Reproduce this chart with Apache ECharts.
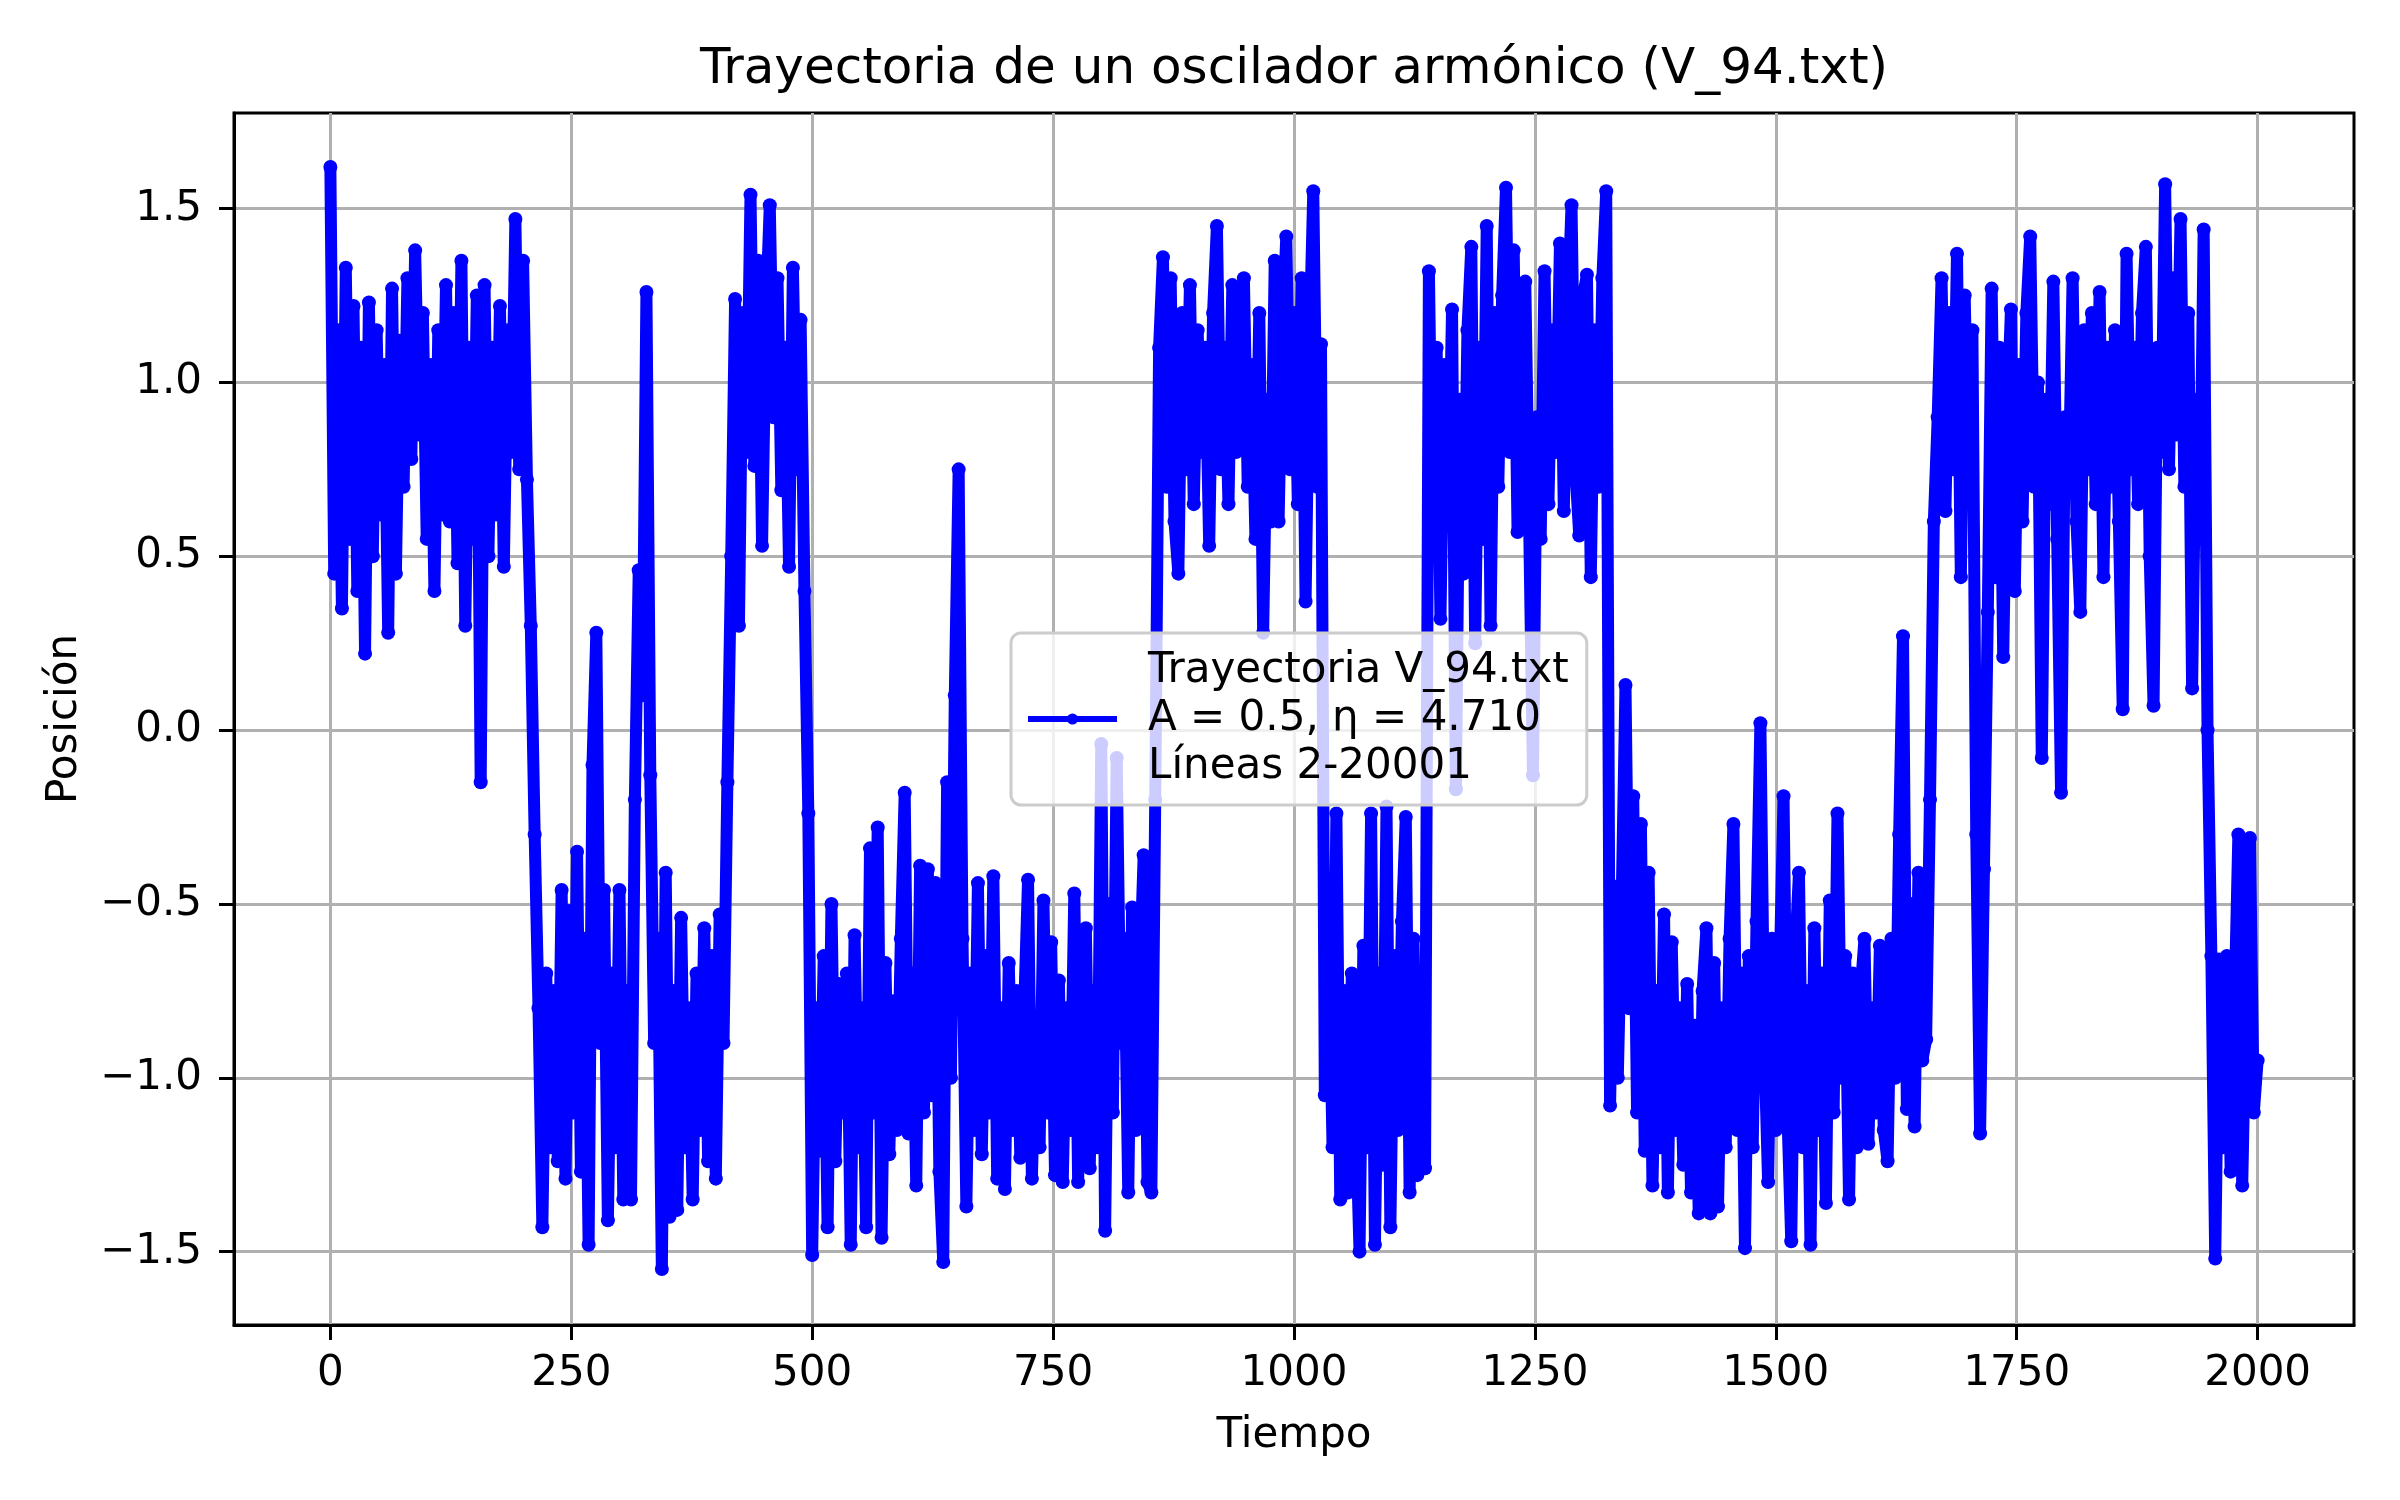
<!DOCTYPE html>
<html>
<head>
<meta charset="utf-8">
<title>Trayectoria V_94</title>
<script src="https://cdn.jsdelivr.net/npm/echarts@6/dist/echarts.min.js"></script>
<style>
  html, body { margin: 0; padding: 0; background: #fff; }
  #chart { width: 2400px; height: 1500px; }
</style>
</head>
<body>
<div id="chart"></div>
<script>
// datos (paso de 4 unidades de tiempo)
var paso = 4;
var posicion = [
    1.62, 0.45, 1.15, 0.35, 1.33, 0.55, 1.22, 0.40, 1.10, 0.22,
    1.23, 0.50, 1.15, 0.62, 1.05, 0.28, 1.27, 0.45, 1.12, 0.70,
    1.30, 0.78, 1.38, 0.85, 1.20, 0.55, 1.05, 0.40, 1.15, 0.62,
    1.28, 0.60, 1.20, 0.48, 1.35, 0.30, 1.10, 0.55, 1.25, -0.15,
    1.28, 0.50, 1.10, 0.62, 1.22, 0.47, 1.15, 0.80, 1.47, 0.75,
    1.35, 0.72, 0.30, -0.30, -0.80, -1.43, -0.70, -1.20, -0.75, -1.24,
    -0.46, -1.29, -0.52, -1.10, -0.35, -1.27, -0.60, -1.48, -0.10, 0.28,
    -0.90, -0.46, -1.41, -0.70, -1.20, -0.46, -1.35, -0.75, -1.35, -0.20,
    0.46, 0.10, 1.26, -0.13, -0.90, -0.60, -1.55, -0.41, -1.40, -0.75,
    -1.38, -0.54, -1.20, -0.80, -1.35, -0.70, -1.15, -0.57, -1.24, -0.65,
    -1.29, -0.53, -0.90, -0.15, 0.50, 1.24, 0.30, 1.20, 0.80, 1.54,
    0.76, 1.35, 0.53, 1.20, 1.51, 0.90, 1.30, 0.69, 1.10, 0.47,
    1.33, 0.75, 1.18, 0.40, -0.24, -1.51, -0.80, -1.21, -0.65, -1.43,
    -0.50, -1.24, -0.73, -1.10, -0.70, -1.48, -0.59, -1.20, -0.80, -1.43,
    -0.34, -1.10, -0.28, -1.46, -0.67, -1.22, -0.78, -1.15, -0.60, -0.18,
    -1.16, -0.70, -1.31, -0.39, -1.10, -0.40, -1.05, -0.44, -1.27, -1.53,
    -0.15, -1.00, 0.10, 0.75, -0.60, -1.37, -0.70, -1.15, -0.44, -1.22,
    -0.65, -1.10, -0.42, -1.29, -0.80, -1.32, -0.67, -1.15, -0.75, -1.23,
    -0.80, -0.43, -1.29, -0.85, -1.20, -0.49, -1.10, -0.61, -1.28, -0.72,
    -1.30, -0.80, -1.15, -0.47, -1.30, -0.70, -0.57, -1.26, -0.75, -1.20,
    -0.04, -1.44, -0.50, -1.10, -0.08, -0.90, -0.60, -1.33, -0.51, -1.15,
    -0.70, -0.36, -1.30, -1.33, -0.20, 1.10, 1.36, 0.70, 1.30, 0.60,
    0.45, 1.20, 0.75, 1.28, 0.65, 1.15, 0.80, 1.10, 0.53, 1.20,
    1.45, 0.75, 1.10, 0.65, 1.28, 0.80, 1.15, 1.30, 0.70, 1.05,
    0.55, 1.20, 0.28, 0.95, 0.60, 1.35, 0.60, 1.15, 1.42, 0.75,
    1.20, 0.65, 1.30, 0.37, 1.10, 1.55, 0.70, 1.11, -1.05, -0.60,
    -1.20, -0.24, -1.35, -0.75, -1.33, -0.70, -1.10, -1.50, -0.62, -1.20,
    -0.24, -1.48, -0.70, -1.25, -0.22, -1.43, -0.65, -1.15, -0.55, -0.25,
    -1.33, -0.60, -1.28, -0.70, -1.26, 1.32, 0.50, 1.10, 0.32, 1.05,
    0.60, 1.21, -0.17, 0.95, 0.45, 1.15, 1.39, 0.25, 1.10, 0.55,
    1.45, 0.30, 1.20, 0.70, 1.25, 1.56, 0.80, 1.38, 0.57, 1.10,
    1.29, 0.60, -0.13, 0.90, 0.55, 1.32, 0.65, 1.15, 0.80, 1.40,
    0.63, 1.20, 1.51, 0.75, 0.56, 1.25, 1.31, 0.44, 1.15, 0.70,
    1.30, 1.55, -1.08, -0.45, -1.00, -0.50, 0.13, -0.80, -0.19, -1.10,
    -0.27, -1.21, -0.41, -1.31, -0.75, -1.20, -0.53, -1.33, -0.61, -1.15,
    -0.80, -1.25, -0.73, -1.33, -0.85, -1.39, -0.75, -0.57, -1.39, -0.67,
    -1.37, -0.80, -1.20, -0.60, -0.27, -1.15, -0.70, -1.49, -0.65, -1.20,
    -0.55, 0.02, -0.90, -1.30, -0.60, -1.15, -0.70, -0.19, -1.10, -1.47,
    -0.65, -0.41, -1.20, -0.75, -1.48, -0.57, -1.15, -0.70, -1.36, -0.49,
    -1.10, -0.24, -1.00, -0.65, -1.35, -0.70, -1.20, -0.75, -0.60, -1.19,
    -0.80, -1.10, -0.62, -1.15, -1.24, -0.60, -1.00, -0.30, 0.27, -1.09,
    -0.50, -1.14, -0.41, -0.95, -0.89, -0.20, 0.60, 0.90, 1.30, 0.63,
    1.20, 0.75, 1.37, 0.44, 1.25, 0.70, 1.15, -0.30, -1.16, -0.40,
    0.34, 1.27, 0.44, 1.10, 0.21, 0.90, 1.21, 0.40, 1.05, 0.60,
    1.20, 1.42, 0.70, 1.00, -0.08, 0.95, 0.65, 1.29, 0.55, -0.18,
    0.90, 0.70, 1.30, 0.60, 0.34, 1.15, 0.75, 1.20, 0.65, 1.26,
    0.44, 1.10, 0.70, 1.15, 0.60, 0.06, 1.37, 0.75, 1.10, 0.65,
    1.20, 1.39, 0.50, 0.07, 1.10, 0.80, 1.57, 0.75, 1.30, 0.85,
    1.47, 0.70, 1.20, 0.12, 0.95, 0.55, 1.44, 0.00, -0.65, -1.52,
    -0.66, -1.20, -0.65, -1.27, -0.80, -0.30, -1.31, -0.75, -0.31, -1.10,
    -0.95
];
var ticksX = [0, 250, 500, 750, 1000, 1250, 1500, 1750, 2000];
var ticksY = [-1.5, -1.0, -0.5, 0.0, 0.5, 1.0, 1.5];

var archivo = 'V_94.txt';
var amplitud = '0.5';
var eta = '4.710';
var lineas = '2-20001';

var datos = [];
for (var i = 0; i < posicion.length; ++i) {
    datos.push([i * paso, posicion[i]]);
}

var fuente = 'DejaVu Sans';
var nombreSerie = 'Trayectoria ' + archivo + '\nA = ' + amplitud + ', \u03b7 = ' + eta + '\nL\u00edneas ' + lineas;

var chart_option = {
    animation: false,
    backgroundColor: '#ffffff',
    textStyle: { fontFamily: fuente },
    title: {
        text: 'Trayectoria de un oscilador arm\u00f3nico (' + archivo + ')',
        left: 1289,
        top: 40,
        textAlign: 'center',
        textStyle: { fontFamily: fuente, fontSize: 50, fontWeight: 'normal', color: '#000' }
    },
    legend: {
        left: 1011,
        top: 633,
        orient: 'vertical',
        padding: [14, 18, 14, 14],
        itemWidth: 89,
        itemHeight: 14,
        backgroundColor: 'rgba(255,255,255,0.8)',
        borderColor: '#cccccc',
        borderWidth: 3,
        borderRadius: 10,
        lineStyle: { width: 6 },
        textStyle: { fontFamily: fuente, fontSize: 42, lineHeight: 48, color: '#000', padding: [0, 0, 0, 26] },
        data: [nombreSerie]
    },
    grid: {
        left: 234,
        right: 46,
        top: 113,
        bottom: 175,
        show: true,
        borderColor: '#000',
        borderWidth: 3,
        containLabel: false
    },
    xAxis: {
        type: 'value',
        min: -100,
        max: 2100,
        name: 'Tiempo',
        nameLocation: 'middle',
        nameGap: 90,
        nameTextStyle: { fontFamily: fuente, fontSize: 42, color: '#000' },
        axisLine: { show: true, onZero: false, lineStyle: { color: '#000', width: 3 } },
        axisTick: { show: true, length: 15, lineStyle: { color: '#000', width: 3 }, customValues: ticksX },
        axisLabel: {
            fontFamily: fuente, fontSize: 42, color: '#000', margin: 28, customValues: ticksX,
            formatter: function (v) { return String(v); }
        },
        splitLine: { show: true, lineStyle: { color: '#b0b0b0', width: 3 } }
    },
    yAxis: {
        type: 'value',
        min: -1.711,
        max: 1.775,
        name: 'Posici\u00f3n',
        nameLocation: 'middle',
        nameGap: 148,
        nameTextStyle: { fontFamily: fuente, fontSize: 42, color: '#000' },
        axisLine: { show: true, onZero: false, lineStyle: { color: '#000', width: 3 } },
        axisTick: { show: true, length: 15, lineStyle: { color: '#000', width: 3 }, customValues: ticksY },
        axisLabel: {
            fontFamily: fuente, fontSize: 42, color: '#000', margin: 32, customValues: ticksY,
            formatter: function (v) { return (v < 0 ? '\u2212' : '') + Math.abs(v).toFixed(1); }
        },
        splitLine: { show: true, lineStyle: { color: '#b0b0b0', width: 3 } }
    },
    series: [
        {
            name: nombreSerie,
            type: 'line',
            data: datos,
            symbol: 'circle',
            symbolSize: 14,
            showAllSymbol: true,
            color: '#0000ff',
            lineStyle: { color: '#0000ff', width: 12 },
            itemStyle: { color: '#0000ff' },
            z: 3
        }
    ]
};

var chart = echarts.init(document.getElementById('chart'));
chart.setOption(chart_option);
</script>
</body>
</html>
